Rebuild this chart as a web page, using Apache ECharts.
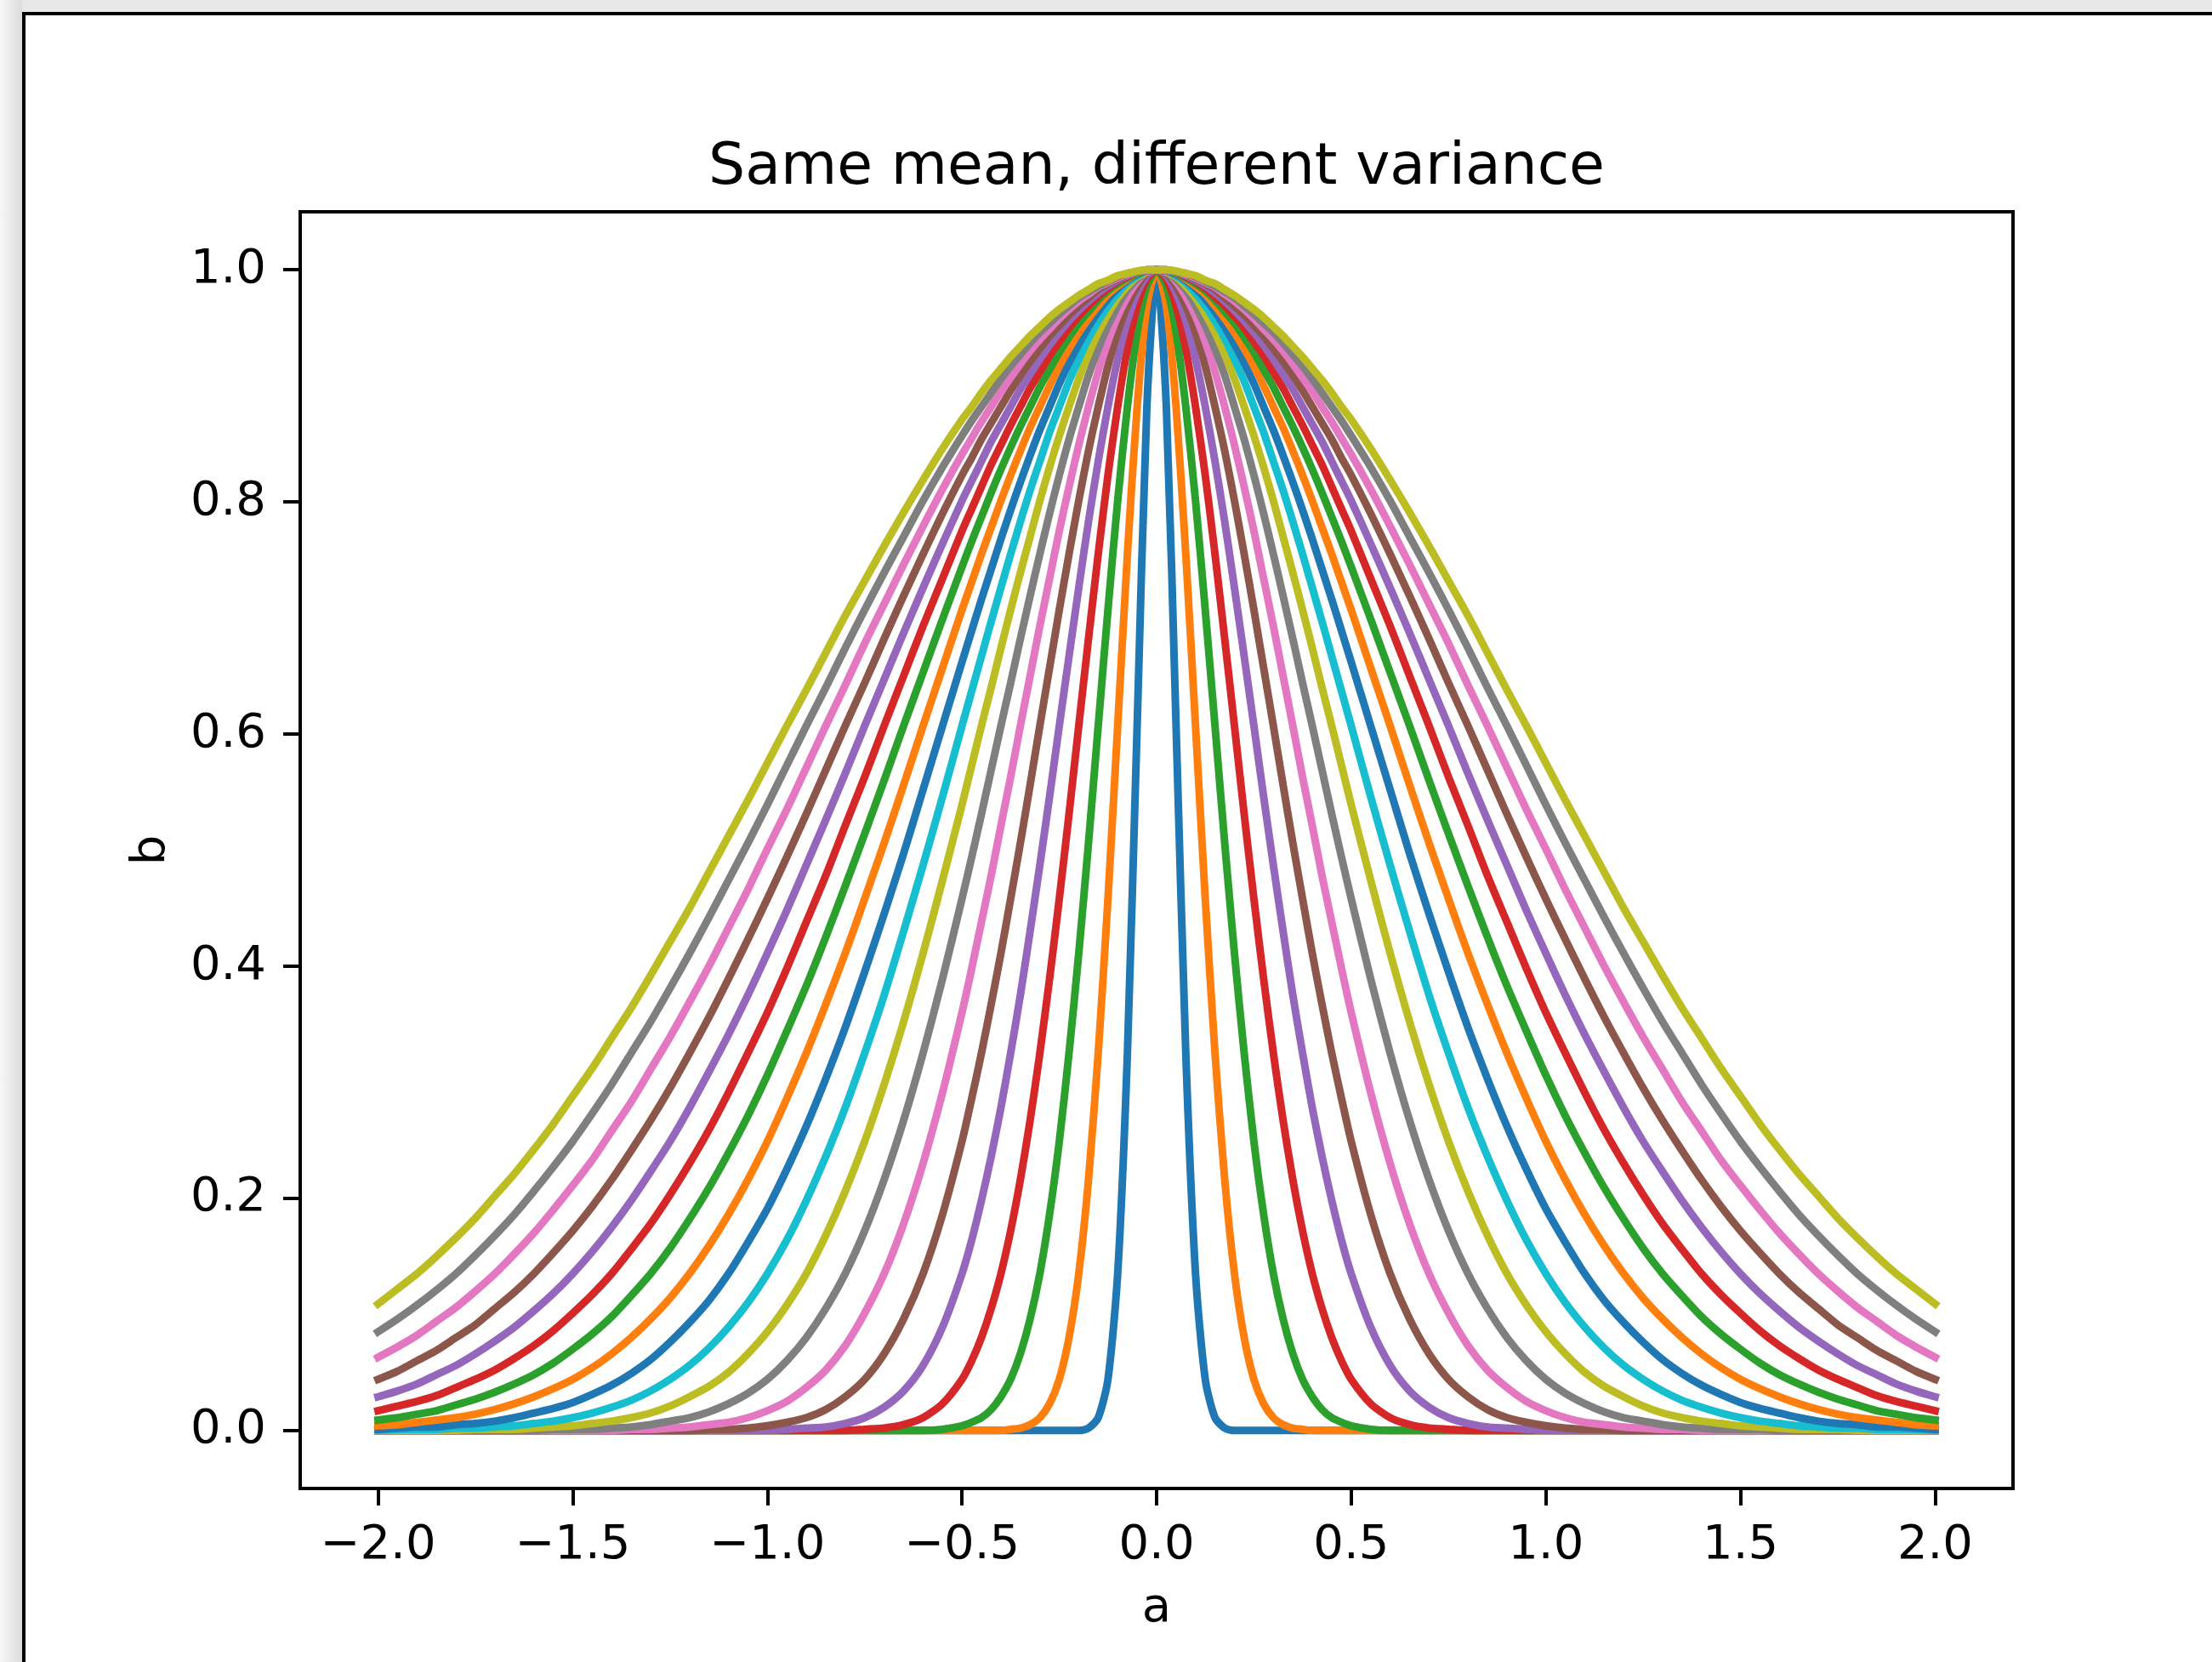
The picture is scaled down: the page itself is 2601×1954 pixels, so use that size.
<!DOCTYPE html>
<html>
<head>
<meta charset="utf-8">
<script src="https://cdn.jsdelivr.net/npm/echarts@6/dist/echarts.min.js"></script>
<style>
html,body{margin:0;padding:0;width:2601px;height:1954px;overflow:hidden;background:#e8e8e8;}
#leftStrip{position:absolute;left:0;top:0;width:26px;height:1954px;background:linear-gradient(90deg,#f7f7f7,#dcdcdc);}
#page{position:absolute;left:26px;top:14px;width:2575px;height:1940px;background:#fff;border-left:4px solid #000;border-top:4px solid #000;}
#chart{position:absolute;left:0;top:0;width:2601px;height:1954px;}
</style>
</head>
<body>
<div id="leftStrip"></div>
<div id="page"></div>
<div id="chart"></div>
<script>
// ---- data ----
const xValues = [-2.0,-1.95,-1.9,-1.85,-1.8,-1.75,-1.7,-1.65,-1.6,-1.55,-1.5,-1.45,-1.4,-1.35,-1.3,-1.25,-1.2,-1.15,-1.1,-1.05,
  -1.0,-0.95,-0.9,-0.85,-0.8,-0.75,-0.7,-0.65,-0.6,-0.55,-0.5,
  -0.475,-0.45,-0.425,-0.4,-0.375,-0.35,-0.325,-0.3,-0.275,-0.25,
  -0.225,-0.2,-0.175,-0.15,-0.125,-0.1,-0.075,-0.05,-0.025,
  0,
  0.025,0.05,0.075,0.1,0.125,0.15,0.175,0.2,0.225,
  0.25,0.275,0.3,0.325,0.35,0.375,0.4,0.425,0.45,0.475,
  0.5,0.55,0.6,0.65,0.7,0.75,0.8,0.85,0.9,0.95,1.0,
  1.05,1.1,1.15,1.2,1.25,1.3,1.35,1.4,1.45,1.5,1.55,1.6,1.65,1.7,1.75,1.8,1.85,1.9,1.95,2.0];

const curve01 = [0,0,0,0,0,0,0,0,0,0, 0,0,0,0,0,0,0,0,0,0, 0,0,0,0,0,0,0,0,0,0, 0,0,0,0,0,0,0,0,0,0, 0,0,0,
  0.002,0.011,0.044,0.135,0.325,0.607,0.882, 1, 0.882,0.607,0.325,0.135,0.044,0.011,0.002,
  0,0,0,0,0,0,0,0,0,0, 0,0,0,0,0,0,0,0,0,0, 0,0,0,0,0,0,0,0,0,0, 0,0,0,0,0,0,0,0,0,0, 0,0,0];
const curve02 = [0,0,0,0,0,0,0,0,0,0, 0,0,0,0,0,0,0,0,0,0, 0,0,0,0,0,0,0,0,0,0, 0,0,0,0,0,
  0.001,0.002,0.005,0.011,0.023,0.044,0.080,0.135,0.216,0.325,0.458,0.607,0.755,0.882,0.969, 1,
  0.969,0.882,0.755,0.607,0.458,0.325,0.216,0.135,0.080,0.044,0.023,0.011,0.005,0.002,0.001,
  0,0,0,0,0,0,0,0,0,0, 0,0,0,0,0,0,0,0,0,0, 0,0,0,0,0,0,0,0,0,0, 0,0,0,0,0];
const curve03 = [0,0,0,0,0,0,0,0,0,0, 0,0,0,0,0,0,0,0,0,0, 0,0,0,0,0,0,0,0,0,
  0.001,0.004,0.007,0.011,0.018,0.029,0.044,0.066,0.096,0.135,0.186,0.249,0.325,0.411,0.506,0.607,0.707,0.801,0.882,0.946,0.986, 1,
  0.986,0.946,0.882,0.801,0.707,0.607,0.506,0.411,0.325,0.249,0.186,0.135,0.096,0.066,0.044,0.029,0.018,0.011,0.007,0.004,0.001,
  0,0,0,0,0,0,0,0,0,0, 0,0,0,0,0,0,0,0,0,0, 0,0,0,0,0,0,0,0,0];
const curve04 = [0,0,0,0,0,0,0,0,0,0, 0,0,0,0,0,0,0,0,0,0, 0,0,0,0,0,
  0.001,0.002,0.005,0.011,0.023,0.044,0.060,0.080,0.105,0.135,0.172,0.216,0.267,0.325,0.389,0.458,0.531,0.607,0.682,0.755,0.823,0.882,0.932,0.969,0.992, 1,
  0.992,0.969,0.932,0.882,0.823,0.755,0.682,0.607,0.531,0.458,0.389,0.325,0.267,0.216,0.172,0.135,0.105,0.080,0.060,0.044,0.023,0.011,0.005,0.002,0.001,
  0,0,0,0,0,0,0,0,0,0, 0,0,0,0,0,0,0,0,0,0, 0,0,0,0,0];
const curve05 = [0,0,0,0,0,0,0,0,0,0, 0,0,0,0,0,0,0,0,0,0, 0,
  0.001,0.002,0.003,0.006,0.011,0.020,0.034,0.056,0.089,0.135,0.164,0.198,0.236,0.278,0.325,0.375,0.430,0.487,0.546,0.607,0.667,0.726,0.783,0.835,0.882,0.923,0.956,0.980,0.995, 1,
  0.995,0.980,0.956,0.923,0.882,0.835,0.783,0.726,0.667,0.607,0.546,0.487,0.430,0.375,0.325,0.278,0.236,0.198,0.164,0.135,0.089,0.056,0.034,0.020,0.011,0.006,0.003,0.002,0.001,
  0,0,0,0,0,0,0,0,0,0, 0,0,0,0,0,0,0,0,0,0, 0];
const curve06 = [0,0,0,0,0,0,0,0,0,0, 0,0,0,0,0,0,0,
  0.001,0.001,0.002,
  0.004,0.007,0.011,0.018,0.029,0.044,0.066,0.096,0.135,0.186,0.249,0.286,0.325,0.367,0.411,0.458,0.506,0.556,0.607,0.657,0.707,0.755,0.801,0.844,0.882,0.917,0.946,0.969,0.986,0.997, 1,
  0.997,0.986,0.969,0.946,0.917,0.882,0.844,0.801,0.755,0.707,0.657,0.607,0.556,0.506,0.458,0.411,0.367,0.325,0.286,0.249,0.186,0.135,0.096,0.066,0.044,0.029,0.018,0.011,0.007,0.004,
  0.002,0.001,0.001,
  0,0,0,0,0,0,0,0,0,0, 0,0,0,0,0,0,0];
const curve07 = [0,0,0,0,0,0,0,0,0,0, 0,0,0,
  0.001,0.001,0.002,0.003,0.005,0.007,0.011,
  0.017,0.025,0.037,0.052,0.073,0.101,0.135,0.178,0.230,0.291,0.360,0.398,0.438,0.478,0.521,0.563,0.607,0.650,0.693,0.734,0.775,0.813,0.849,0.882,0.912,0.938,0.960,0.977,0.990,0.998, 1,
  0.998,0.990,0.977,0.960,0.938,0.912,0.882,0.849,0.813,0.775,0.734,0.693,0.650,0.607,0.563,0.521,0.478,0.438,0.398,0.360,0.291,0.230,0.178,0.135,0.101,0.073,0.052,0.037,0.025,0.017,
  0.011,0.007,0.005,0.003,0.002,0.001,0.001,
  0,0,0,0,0,0,0,0,0,0, 0,0,0];
const curve08 = [0,0,0,0,0,0,0,0,0,
  0.001,0.001,0.001,0.002,0.003,0.005,0.008,0.011,0.016,0.023,0.032,
  0.044,0.060,0.080,0.105,0.135,0.172,0.216,0.267,0.325,0.389,0.458,0.494,0.531,0.569,0.607,0.644,0.682,0.719,0.755,0.790,0.823,0.854,0.882,0.909,0.932,0.952,0.969,0.983,0.992,0.998, 1,
  0.998,0.992,0.983,0.969,0.952,0.932,0.909,0.882,0.854,0.823,0.790,0.755,0.719,0.682,0.644,0.607,0.569,0.531,0.494,0.458,0.389,0.325,0.267,0.216,0.172,0.135,0.105,0.080,0.060,0.044,
  0.032,0.023,0.016,0.011,0.008,0.005,0.003,0.002,0.001,0.001,0.001,
  0,0,0,0,0,0,0,0,0];
const curve09 = [0,0,0,0,0,
  0.001,0.001,0.001,0.002,0.003,0.004,0.006,0.008,0.011,0.015,0.021,0.029,0.038,0.050,0.066,
  0.085,0.108,0.135,0.168,0.206,0.249,0.298,0.352,0.411,0.474,0.539,0.573,0.607,0.640,0.674,0.707,0.739,0.770,0.801,0.830,0.857,0.882,0.906,0.927,0.946,0.962,0.976,0.986,0.994,0.998, 1,
  0.998,0.994,0.986,0.976,0.962,0.946,0.927,0.906,0.882,0.857,0.830,0.801,0.770,0.739,0.707,0.674,0.640,0.607,0.573,0.539,0.474,0.411,0.352,0.298,0.249,0.206,0.168,0.135,0.108,0.085,
  0.066,0.050,0.038,0.029,0.021,0.015,0.011,0.008,0.006,0.004,0.003,0.002,0.001,0.001,0.001,
  0,0,0,0,0];
const curve10 = [0,
  0.001,0.001,0.001,0.002,0.002,0.003,0.004,0.006,0.008,0.011,0.015,0.020,0.026,0.034,0.044,0.056,0.071,0.089,0.110,
  0.135,0.164,0.198,0.236,0.278,0.325,0.375,0.430,0.487,0.546,0.607,0.637,0.667,0.697,0.726,0.755,0.783,0.810,0.835,0.860,0.882,0.904,0.923,0.941,0.956,0.969,0.980,0.989,0.995,0.999, 1,
  0.999,0.995,0.989,0.980,0.969,0.956,0.941,0.923,0.904,0.882,0.860,0.835,0.810,0.783,0.755,0.726,0.697,0.667,0.637,0.607,0.546,0.487,0.430,0.375,0.325,0.278,0.236,0.198,0.164,0.135,
  0.110,0.089,0.071,0.056,0.044,0.034,0.026,0.020,0.015,0.011,0.008,0.006,0.004,0.003,0.002,0.002,0.001,0.001,0.001,
  0];
const curve11 = [0.001,0.002,0.003,0.003,0.005,0.006,0.008,0.011,0.015,0.019,0.024,0.031,0.039,0.049,0.061,0.076,0.093,0.112,0.135,0.162,
  0.191,0.225,0.262,0.303,0.347,0.395,0.445,0.497,0.552,0.607,0.662,0.689,0.716,0.742,0.768,0.793,0.817,0.840,0.862,0.882,0.902,0.920,0.936,0.951,0.964,0.975,0.984,0.991,0.996,0.999, 1,
  0.999,0.996,0.991,0.984,0.975,0.964,0.951,0.936,0.920,0.902,0.882,0.862,0.840,0.817,0.793,0.768,0.742,0.716,0.689,0.662,0.607,0.552,0.497,0.445,0.395,0.347,0.303,0.262,0.225,0.191,
  0.162,0.135,0.112,0.093,0.076,0.061,0.049,0.039,0.031,0.024,0.019,0.015,0.011,0.008,0.006,0.005,0.003,0.003,0.002,0.001];
const curve12 = [0.004,0.005,0.007,0.009,0.011,0.014,0.018,0.023,0.029,0.036,0.044,0.054,0.066,0.080,0.096,0.114,0.135,0.159,0.186,0.216,
  0.249,0.286,0.325,0.367,0.411,0.458,0.506,0.556,0.607,0.657,0.707,0.731,0.755,0.778,0.801,0.823,0.844,0.864,0.882,0.900,0.917,0.932,0.946,0.958,0.969,0.979,0.986,0.992,0.997,0.999, 1,
  0.999,0.997,0.992,0.986,0.979,0.969,0.958,0.946,0.932,0.917,0.900,0.882,0.864,0.844,0.823,0.801,0.778,0.755,0.731,0.707,0.657,0.607,0.556,0.506,0.458,0.411,0.367,0.325,0.286,0.249,
  0.216,0.186,0.159,0.135,0.114,0.096,0.080,0.066,0.054,0.044,0.036,0.029,0.023,0.018,0.014,0.011,0.009,0.007,0.005,0.004];
const curve13 = [0.009,0.011,0.014,0.017,0.022,0.027,0.033,0.040,0.048,0.058,0.070,0.083,0.098,0.116,0.135,0.157,0.182,0.209,0.239,0.271,
  0.306,0.344,0.383,0.425,0.469,0.514,0.560,0.607,0.653,0.699,0.744,0.766,0.787,0.808,0.828,0.847,0.865,0.882,0.899,0.914,0.929,0.942,0.954,0.964,0.974,0.982,0.988,0.993,0.997,0.999, 1,
  0.999,0.997,0.993,0.988,0.982,0.974,0.964,0.954,0.942,0.929,0.914,0.899,0.882,0.865,0.847,0.828,0.808,0.787,0.766,0.744,0.699,0.653,0.607,0.560,0.514,0.469,0.425,0.383,0.344,0.306,
  0.271,0.239,0.209,0.182,0.157,0.135,0.116,0.098,0.083,0.070,0.058,0.048,0.040,0.033,0.027,0.022,0.017,0.014,0.011,0.009];
const curve14 = [0.017,0.021,0.025,0.030,0.037,0.044,0.052,0.062,0.073,0.086,0.101,0.117,0.135,0.156,0.178,0.203,0.230,0.259,0.291,0.325,
  0.360,0.398,0.438,0.478,0.521,0.563,0.607,0.650,0.693,0.734,0.775,0.794,0.813,0.832,0.849,0.866,0.882,0.898,0.912,0.926,0.938,0.950,0.960,0.969,0.977,0.984,0.990,0.994,0.998,0.999, 1,
  0.999,0.998,0.994,0.990,0.984,0.977,0.969,0.960,0.950,0.938,0.926,0.912,0.898,0.882,0.866,0.849,0.832,0.813,0.794,0.775,0.734,0.693,0.650,0.607,0.563,0.521,0.478,0.438,0.398,0.360,
  0.325,0.291,0.259,0.230,0.203,0.178,0.156,0.135,0.117,0.101,0.086,0.073,0.062,0.052,0.044,0.037,0.030,0.025,0.021,0.017];
const curve15 = [0.029,0.034,0.040,0.048,0.056,0.066,0.077,0.089,0.103,0.118,0.135,0.154,0.175,0.198,0.223,0.249,0.278,0.309,0.341,0.375,
  0.411,0.448,0.487,0.526,0.566,0.607,0.647,0.687,0.726,0.764,0.801,0.818,0.835,0.852,0.867,0.882,0.897,0.910,0.923,0.935,0.946,0.956,0.965,0.973,0.980,0.986,0.991,0.995,0.998,0.999, 1,
  0.999,0.998,0.995,0.991,0.986,0.980,0.973,0.965,0.956,0.946,0.935,0.923,0.910,0.897,0.882,0.867,0.852,0.835,0.818,0.801,0.764,0.726,0.687,0.647,0.607,0.566,0.526,0.487,0.448,0.411,
  0.375,0.341,0.309,0.278,0.249,0.223,0.198,0.175,0.154,0.135,0.118,0.103,0.089,0.077,0.066,0.056,0.048,0.040,0.034,0.029];
const curve16 = [0.044,0.051,0.060,0.069,0.080,0.091,0.105,0.119,0.135,0.153,0.172,0.193,0.216,0.241,0.267,0.295,0.325,0.356,0.389,0.423,
  0.458,0.494,0.531,0.569,0.607,0.644,0.682,0.719,0.755,0.790,0.823,0.838,0.854,0.868,0.882,0.896,0.909,0.921,0.932,0.943,0.952,0.961,0.969,0.976,0.983,0.988,0.992,0.996,0.998,1, 1,
  1,0.998,0.996,0.992,0.988,0.983,0.976,0.969,0.961,0.952,0.943,0.932,0.921,0.909,0.896,0.882,0.868,0.854,0.838,0.823,0.790,0.755,0.719,0.682,0.644,0.607,0.569,0.531,0.494,0.458,
  0.423,0.389,0.356,0.325,0.295,0.267,0.241,0.216,0.193,0.172,0.153,0.135,0.119,0.105,0.091,0.080,0.069,0.060,0.051,0.044];
const curve17 = [0.063,0.072,0.082,0.094,0.106,0.120,0.135,0.152,0.170,0.190,0.211,0.233,0.258,0.283,0.311,0.339,0.369,0.400,0.433,0.466,
  0.501,0.535,0.571,0.607,0.642,0.678,0.712,0.746,0.779,0.811,0.841,0.855,0.869,0.882,0.895,0.907,0.919,0.930,0.940,0.949,0.958,0.966,0.973,0.979,0.985,0.989,0.993,0.996,0.998,1, 1,
  1,0.998,0.996,0.993,0.989,0.985,0.979,0.973,0.966,0.958,0.949,0.940,0.930,0.919,0.907,0.895,0.882,0.869,0.855,0.841,0.811,0.779,0.746,0.712,0.678,0.642,0.607,0.571,0.535,0.501,
  0.466,0.433,0.400,0.369,0.339,0.311,0.283,0.258,0.233,0.211,0.190,0.170,0.152,0.135,0.120,0.106,0.094,0.082,0.072,0.063];
const curve18 = [0.085,0.096,0.108,0.121,0.135,0.151,0.168,0.186,0.206,0.227,0.249,0.273,0.298,0.325,0.352,0.381,0.411,0.442,0.474,0.506,
  0.539,0.573,0.607,0.640,0.674,0.707,0.739,0.770,0.801,0.830,0.857,0.870,0.882,0.894,0.906,0.917,0.927,0.937,0.946,0.954,0.962,0.969,0.976,0.981,0.986,0.990,0.994,0.997,0.998,1, 1,
  1,0.998,0.997,0.994,0.990,0.986,0.981,0.976,0.969,0.962,0.954,0.946,0.937,0.927,0.917,0.906,0.894,0.882,0.870,0.857,0.830,0.801,0.770,0.739,0.707,0.674,0.640,0.607,0.573,0.539,
  0.506,0.474,0.442,0.411,0.381,0.352,0.325,0.298,0.273,0.249,0.227,0.206,0.186,0.168,0.151,0.135,0.121,0.108,0.096,0.085];
const curve19 = [0.109,0.122,0.135,0.150,0.166,0.183,0.202,0.221,0.242,0.264,0.288,0.312,0.338,0.364,0.392,0.421,0.450,0.481,0.512,0.543,
  0.575,0.607,0.638,0.670,0.702,0.732,0.762,0.791,0.819,0.846,0.871,0.882,0.894,0.905,0.915,0.925,0.934,0.943,0.951,0.959,0.966,0.972,0.978,0.983,0.988,0.991,0.995,0.997,0.999,1, 1,
  1,0.999,0.997,0.995,0.991,0.988,0.983,0.978,0.972,0.966,0.959,0.951,0.943,0.934,0.925,0.915,0.905,0.894,0.882,0.871,0.846,0.819,0.791,0.762,0.732,0.702,0.670,0.638,0.607,0.575,
  0.543,0.512,0.481,0.450,0.421,0.392,0.364,0.338,0.312,0.288,0.264,0.242,0.221,0.202,0.183,0.166,0.150,0.135,0.122,0.109];

const xTickValues = [-2.0,-1.5,-1.0,-0.5,0.0,0.5,1.0,1.5,2.0];
const yTickValues = [0.0,0.2,0.4,0.6,0.8,1.0];
const titleText = 'Same mean, different variance';
const xName = 'a';
const yName = 'b';

// ---- styling ----
const palette = ['#1f77b4','#ff7f0e','#2ca02c','#d62728','#9467bd','#8c564b','#e377c2','#7f7f7f','#bcbd22','#17becf'];
const curves = [curve01,curve02,curve03,curve04,curve05,curve06,curve07,curve08,curve09,curve10,
                curve11,curve12,curve13,curve14,curve15,curve16,curve17,curve18,curve19];
curves.forEach((c, i) => { if (c.length !== xValues.length) console.error('length mismatch curve ' + (i + 1) + ': ' + c.length + ' vs ' + xValues.length); });

const FONT = 'DejaVu Sans';
const fmt = v => (v < 0 ? '\u2212' : '') + Math.abs(v).toFixed(1);

const chart = echarts.init(document.getElementById('chart'), null, {renderer: 'canvas', width: 2601, height: 1954});
chart.setOption({
  animation: false,
  title: {
    text: titleText,
    left: 1360, top: 164, padding: 0,
    textAlign: 'center', textVerticalAlign: 'top',
    textStyle: {fontFamily: FONT, fontSize: 68, fontWeight: 'normal', color: '#000'}
  },
  grid: {
    left: 353, right: 234, top: 249, bottom: 204,
    show: true, borderColor: '#000', borderWidth: 4, backgroundColor: 'transparent'
  },
  xAxis: {
    type: 'value', min: -2.2, max: 2.2,
    name: xName, nameLocation: 'middle', nameGap: 113,
    nameTextStyle: {fontFamily: FONT, fontSize: 56, color: '#000'},
    axisLine: {show: true, onZero: false, lineStyle: {color: '#000', width: 4}},
    axisTick: {show: true, inside: false, length: 20, lineStyle: {color: '#000', width: 4}, customValues: xTickValues},
    axisLabel: {show: true, margin: 39, fontFamily: FONT, fontSize: 56, color: '#000', customValues: xTickValues, formatter: fmt},
    splitLine: {show: false}
  },
  yAxis: {
    type: 'value', min: -0.05, max: 1.05,
    name: yName, nameLocation: 'middle', nameGap: 147,
    nameTextStyle: {fontFamily: FONT, fontSize: 56, color: '#000'},
    axisLine: {show: true, onZero: false, lineStyle: {color: '#000', width: 4}},
    axisTick: {show: true, inside: false, length: 20, lineStyle: {color: '#000', width: 4}, customValues: yTickValues},
    axisLabel: {show: true, margin: 40, fontFamily: FONT, fontSize: 56, color: '#000', customValues: yTickValues, formatter: fmt},
    splitLine: {show: false}
  },
  series: curves.map((ys, i) => ({
    type: 'line',
    data: xValues.map((x, j) => [x, ys[j]]),
    symbol: 'none', showSymbol: false,
    smooth: 0.25,
    lineStyle: {width: 9, color: palette[i % 10], cap: 'square', join: 'round'},
    itemStyle: {color: palette[i % 10]},
    emphasis: {disabled: true}
  }))
});
</script>
</body>
</html>
